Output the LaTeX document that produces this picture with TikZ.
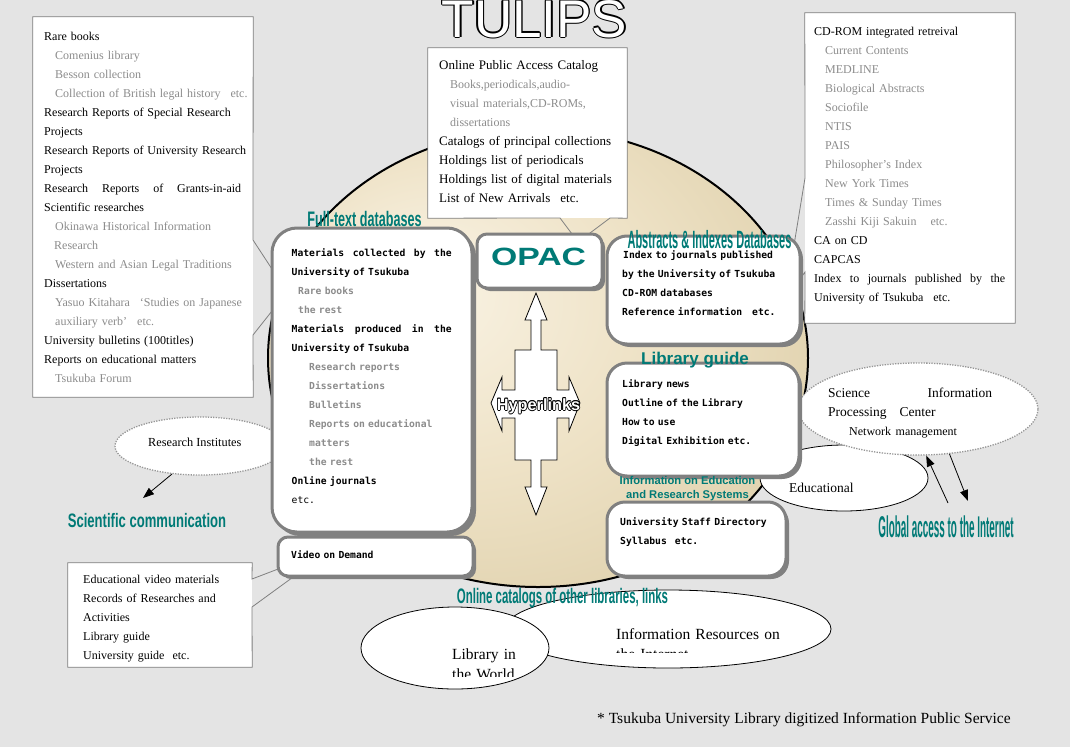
\documentclass[tikz,border=0pt]{standalone}
\usepackage{fontspec}
\usepackage{graphicx}
\usetikzlibrary{shapes.geometric,arrows.meta,fit}
\setmainfont{Liberation Serif}
\newfontfamily\arialf{Liberation Sans}
\newfontfamily\gothic{DejaVu Sans Mono}
\definecolor{bgc}{RGB}{228,228,228}
\definecolor{tealc}{RGB}{0,122,118}
\definecolor{txtgray}{RGB}{140,140,140}
\definecolor{boxgray}{RGB}{128,128,128}
\definecolor{dotgray}{RGB}{150,150,150}
\definecolor{tanin}{RGB}{250,244,230}
\definecolor{tanmid}{RGB}{238,226,198}
\definecolor{tanout}{RGB}{208,191,146}
\pgfdeclareradialshading{tulipshade}{\pgfpoint{-12bp}{8bp}}{color(0bp)=(tanin); color(18bp)=(tanmid); color(50bp)=(tanout)}
\newcommand\outl[3]{\leavevmode
  \rlap{\kern#1\relax #3}\rlap{\kern-#1\relax #3}%
  \rlap{\raisebox{#1}{#3}}\rlap{\raisebox{-#1}{#3}}%
  \rlap{\kern#2\relax\raisebox{#2}{#3}}\rlap{\kern-#2\relax\raisebox{#2}{#3}}%
  \rlap{\kern#2\relax\raisebox{-#2}{#3}}\rlap{\kern-#2\relax\raisebox{-#2}{#3}}%
  \textcolor{white}{#3}}
\newcommand\jline[2]{\makebox[#1][l]{#2}}
\newcommand\gr[1]{\textcolor{txtgray}{#1}}
\newcommand\grs[1]{{\fontsize{12}{19}\selectfont\color{txtgray}#1}}
\begin{document}
\begin{tikzpicture}[x=1pt,y=-1pt,
  txt/.style={inner sep=0pt, anchor=base west, align=left, text width=300pt},
  serif12/.style={txt, font=\fontsize{12}{19}\selectfont},
  goth/.style={txt, font=\gothic\bfseries\fontsize{9.7}{19}\selectfont},
  rbox/.style={draw=boxgray, line width=3pt, fill=white, inner sep=0pt},
  callout/.style={draw=boxgray, line width=0.8pt},
  dotell/.style={ellipse, draw=dotgray, line width=1.3pt, dash pattern=on 1.3pt off 1.3pt, fill=white, inner sep=0pt},
  solell/.style={ellipse, draw=black, line width=0.8pt, fill=white, inner sep=0pt},
  tlabel/.style={inner sep=0pt, text=tealc, anchor=base},
  arr/.style={line width=0.8pt, -{Triangle[length=11pt,width=8pt]}},
]
% background
\fill[bgc] (0,0) rectangle (1070,747);
\useasboundingbox (0,0) rectangle (1070,747);

% big disk
\shadedraw[shading=tulipshade, line width=2pt] (538,358) ellipse [x radius=270, y radius=229];

% ellipses
\node[solell, minimum width=168pt, minimum height=66pt] (edu) at (844,478) {};
\node[inner sep=0pt, anchor=base west, font=\fontsize{13.5}{16}\selectfont] (edut) at (789,492) {Educational};
\node[dotell, minimum width=240pt, minimum height=92pt] (sci) at (918,409) {};
\node[txt, font=\fontsize{13.5}{19}\selectfont] (scit) at (828,397) {\jline{164pt}{Science\hfill Information}\\
Processing\hspace{13pt}Center\\
\hspace*{21pt}{\fontsize{12}{19}\selectfont Network management}};
\node[dotell, minimum width=170pt, minimum height=58pt] (ri) at (200,446) {};
\node[inner sep=0pt, anchor=base west, font=\fontsize{12.3}{15}\selectfont] (rit) at (148,446) {Research Institutes};
\node[solell, minimum width=326pt, minimum height=78pt] (inf) at (668,629) {};
\begin{scope}
\clip (600,600) rectangle (840,652);
\node[txt, font=\fontsize{15.5}{20}\selectfont] (inft) at (616,639) {Information Resources on\\the Internet};
\end{scope}
\node[solell, minimum width=188pt, minimum height=82pt] (lw) at (455,648) {};
\begin{scope}
\clip (440,630) rectangle (545,676);
\node[txt, font=\fontsize{15.5}{20}\selectfont] (lwt) at (452,659) {Library in\\the World};
\end{scope}

% left callout
\node[fit={(33,17) (253,397)}, inner sep=0pt, fill=white] (leftbox) {};
\draw[callout] (253,240) -- (leftbox.north east) -- (leftbox.north west) -- (leftbox.south west) -- (leftbox.south east) -- (253,335) -- (287,292) -- cycle;
\node[serif12] (lefttext) at (44,40.5) {Rare books\\
\hspace*{11pt}\gr{Comenius library}\\
\hspace*{11pt}\gr{Besson collection}\\
\hspace*{11pt}\gr{Collection of British legal history\hspace{10pt}etc.}\\
Research Reports of Special Research\\
Projects\\
Research Reports of University Research\\
Projects\\
\jline{197pt}{Research\hfill Reports\hfill of\hfill Grants-in-aid}\\
Scientific researches\\
\hspace*{11pt}\gr{Okinawa Historical Information}\\
\hspace*{10pt}\gr{Research}\\
\hspace*{11pt}\gr{Western and Asian Legal Traditions}\\
Dissertations\\
\hspace*{11pt}\gr{Yasuo Kitahara\hspace{10pt}`Studies on Japanese}\\
\hspace*{11pt}\gr{auxiliary verb'\hspace{10pt}etc.}\\
University bulletins (100titles)\\
Reports on educational matters\\
\hspace*{11pt}\gr{Tsukuba Forum}};

% OPAC callout
\node[fit={(428,48) (627,218)}, inner sep=0pt, fill=white] (opacco) {};
\draw[callout] (560,218) -- (opacco.south west) -- (opacco.north west) -- (opacco.north east) -- (opacco.south east) -- (610,218) -- (578,242) -- cycle;
\node[txt, font=\fontsize{13}{19}\selectfont] (opact) at (439,69.5) {Online Public Access Catalog\\
\hspace*{11pt}\grs{Books,periodicals,audio-}\\
\hspace*{11pt}\grs{visual materials,CD-ROMs,}\\
\hspace*{11pt}\grs{dissertations}\\
Catalogs of principal collections\\
Holdings list of periodicals\\
Holdings list of digital materials\\
List of New Arrivals\hspace{10pt}etc.};

% CD-ROM callout
\node[fit={(805,13) (1015,323)}, inner sep=0pt, fill=white] (cdbox) {};
\draw[callout] (805,178) -- (cdbox.north west) -- (cdbox.north east) -- (cdbox.south east) -- (cdbox.south west) -- (805,272) -- (785,300) -- cycle;
\node[serif12] (cdt) at (814,35) {CD-ROM integrated retreival\\
\hspace*{11pt}\gr{Current Contents}\\
\hspace*{11pt}\gr{MEDLINE}\\
\hspace*{11pt}\gr{Biological Abstracts}\\
\hspace*{11pt}\gr{Sociofile}\\
\hspace*{11pt}\gr{NTIS}\\
\hspace*{11pt}\gr{PAIS}\\
\hspace*{11pt}\gr{Philosopher's Index}\\
\hspace*{11pt}\gr{New York Times}\\
\hspace*{11pt}\gr{Times \& Sunday Times}\\
\hspace*{11pt}\gr{Zasshi Kiji Sakuin\hspace{14pt}etc.}\\
CA on CD\\
CAPCAS\\
\jline{191pt}{Index\hfill to\hfill journals\hfill published\hfill by\hfill the}\\
University of Tsukuba\hspace{10pt}etc.};

% video callout
\node[fit={(68,563) (252,667)}, inner sep=0pt, fill=white] (vodco) {};
\draw[callout] (252,579) -- (vodco.north east) -- (vodco.north west) -- (vodco.south west) -- (vodco.south east) -- (252,607) -- (333,548) -- cycle;
\node[txt, font=\fontsize{12}{19.2}\selectfont] (vodt) at (83,583) {Educational video materials\\
Records of Researches and\\
Activities\\
Library guide\\
University guide\hspace{8pt}etc.};

% rounded boxes
\fill[boxgray, rounded corners=25pt] (275,231) rectangle (476,536);
\node[rbox, rounded corners=25pt, fit={(272,228) (472,532)}] (ft) {};
\fill[boxgray, rounded corners=10pt] (480,237) rectangle (605,291);
\node[rbox, rounded corners=10pt, fit={(477,234) (602,288)}] (opac) {};
\fill[boxgray, rounded corners=20pt] (610,239) rectangle (803,347);
\node[rbox, rounded corners=20pt, fit={(607,236) (800,344)}] (abs) {};
\fill[boxgray, rounded corners=20pt] (610,366) rectangle (802,479);
\node[rbox, rounded corners=20pt, fit={(607,363) (799,476)}] (lib) {};
\fill[boxgray, rounded corners=18pt] (610,505) rectangle (789,579);
\node[rbox, rounded corners=18pt, fit={(607,502) (786,576)}] (staff) {};
\fill[boxgray, rounded corners=10pt] (281,540) rectangle (476,579);
\node[rbox, rounded corners=10pt, fit={(278,537) (473,576)}] (vod) {};

% box texts
\node[goth] (ftt) at (291.5,256.5) {\jline{160pt}{Materials\hfill collected\hfill by\hfill the}\\
University of Tsukuba\\
\hspace*{6.5pt}\gr{Rare books}\\
\hspace*{6.5pt}\gr{the rest}\\
\jline{160pt}{Materials\hfill produced\hfill in\hfill the}\\
University of Tsukuba\\
\hspace*{17.5pt}\gr{Research reports}\\
\hspace*{17.5pt}\gr{Dissertations}\\
\hspace*{17.5pt}\gr{Bulletins}\\
\hspace*{17.5pt}\gr{Reports on educational}\\
\hspace*{17.5pt}\gr{matters}\\
\hspace*{17.5pt}\gr{the rest}\\
Online journals\\
{\mdseries etc.}};
\node[goth] (abst) at (622,258.5) {\hspace*{1pt}Index to journals published\\
by the University of Tsukuba\\
CD-ROM databases\\
Reference information\hspace{10pt}etc.};
\node[goth] (libt) at (622,387.5) {Library news\\
Outline of the Library\\
How to use\\
Digital Exhibition etc.};
\node[goth] (stafft) at (620,525) {University Staff Directory\\
Syllabus\hspace{8pt}etc.};
\node[goth] (vodtt) at (291,558.5) {Video on Demand};

\node[inner sep=0pt, text=tealc, font=\arialf\bfseries\fontsize{25}{25}\selectfont] (opacl) at (538.5,257) {\scalebox{1.35}[1]{OPAC}};

% hyperlinks arrow
\draw[fill=white, line width=0.8pt] (536,293) -- (547,320) -- (541,320) -- (541,350) -- (557,350) -- (557,390) -- (569,390) -- (569,377) -- (580,403) -- (569,431) -- (569,418) -- (557,418) -- (557,460) -- (541,460) -- (541,487) -- (547,487) -- (536,515) -- (525,487) -- (531,487) -- (531,460) -- (515,460) -- (515,418) -- (502,418) -- (502,431) -- (491,403) -- (502,377) -- (502,390) -- (515,390) -- (515,350) -- (531,350) -- (531,320) -- (525,320) -- cycle;
\node[inner sep=0pt, font=\arialf\bfseries\fontsize{16.3}{16}\selectfont] (hyp) at (538.5,406) {\outl{0.8pt}{0.6pt}{Hyperlinks}};

% title
\node[inner sep=0pt, anchor=base, font=\arialf\fontsize{53}{53}\selectfont] (title) at (534.5,37) {\outl{1.3pt}{0.9pt}{TULIPS}};

% teal labels
\node[tlabel, font=\arialf\bfseries\fontsize{21}{21}\selectfont] (ftl) at (364.5,226) {\scalebox{0.6}[1]{Full-text databases}};
\node[tlabel, font=\arialf\bfseries\fontsize{25}{25}\selectfont] (absl) at (709.5,248) {\scalebox{0.44}[1]{Abstracts \& Indexes Databases}};
\node[tlabel, font=\arialf\bfseries\fontsize{17}{17}\selectfont] (libl) at (695,364.5) {Library guide};
\node[inner sep=0pt, text=tealc, anchor=north, align=center, font=\arialf\bfseries\fontsize{11.2}{14}\selectfont] (edul) at (687.5,476.5) {Information on Education\\and Research Systems};
\node[tlabel, font=\arialf\bfseries\fontsize{19.5}{19.5}\selectfont] (scl) at (147,527) {\scalebox{0.67}[1]{Scientific communication}};
\node[tlabel, font=\arialf\bfseries\fontsize{30}{30}\selectfont] (gal) at (946,537) {\scalebox{0.33}[1]{Global access to the Internet}};
\node[tlabel, font=\arialf\bfseries\fontsize{21}{21}\selectfont] (ocl) at (562.5,603) {\scalebox{0.545}[1]{Online catalogs of other libraries, links}};

% arrows
\coordinate (scA) at (143,498);
\draw[arr] (ri.225) -- (scA);
\coordinate (gaUp) at (948,503);
\coordinate (gaDn) at (968,501);
\draw[arr] (gaUp) -- (sci.280);
\draw[arr] (sci.305) -- (gaDn);

% footnote
\node[inner sep=0pt, anchor=base west, font=\fontsize{15.5}{18}\selectfont] (foot) at (597,723) {* Tsukuba University Library digitized Information Public Service};
\end{tikzpicture}
\end{document}
